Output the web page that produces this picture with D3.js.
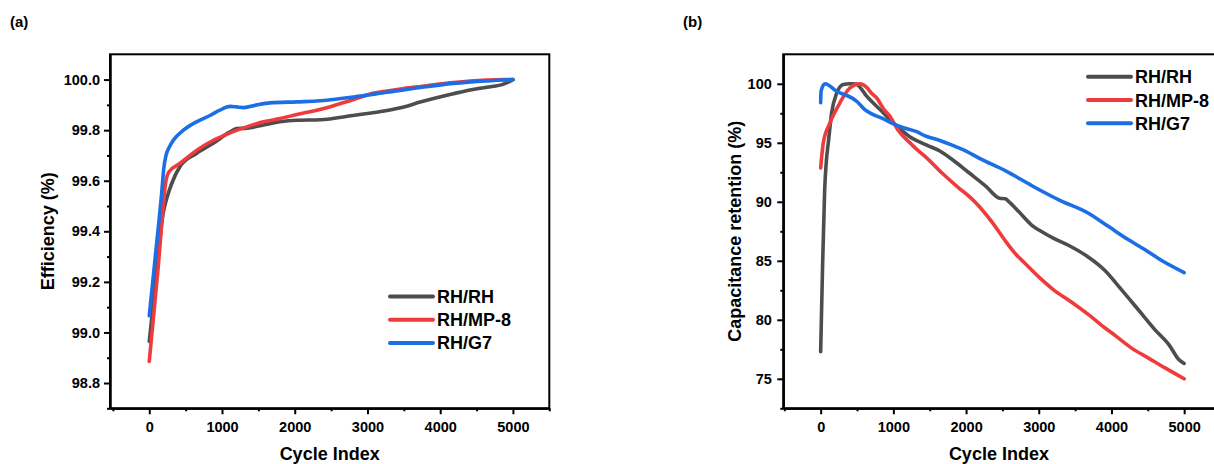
<!DOCTYPE html>
<html>
<head>
<meta charset="utf-8">
<script src="https://cdn.jsdelivr.net/npm/d3@7"></script>
<style>
  html, body { margin: 0; padding: 0; background: #fff; }
  svg { display: block; font-family: "Liberation Sans", Arial, sans-serif; font-weight: bold; }
</style>
</head>
<body>
<svg id="chart" width="1214" height="464"></svg>
<script>
// Series names and colours
const seriesNames = ["RH/RH", "RH/MP-8", "RH/G7"];
const seriesColors = ["#4d4d4d", "#ef3b3b", "#1c6ee6"];

// (a) Coulombic efficiency (%) vs cycle index, as [cycle, value]
const effRHRH = [
  [0, 98.965], [95, 99.22], [190, 99.47], [240, 99.53], [310, 99.59], [420, 99.655],
  [650, 99.708], [880, 99.748], [1110, 99.793], [1200, 99.806], [1340, 99.808],
  [1570, 99.82], [1800, 99.833], [2030, 99.839], [2350, 99.841], [2800, 99.858],
  [3270, 99.878], [3500, 99.892], [3725, 99.911], [3950, 99.928], [4180, 99.944],
  [4410, 99.959], [4640, 99.970], [4870, 99.982], [5000, 100.0]
];
const effRHMP8 = [
  [0, 98.886], [120, 99.25], [230, 99.60], [270, 99.635], [424, 99.669], [650, 99.72],
  [880, 99.76], [1110, 99.789], [1340, 99.813], [1570, 99.833], [1800, 99.846],
  [2030, 99.862], [2260, 99.876], [2490, 99.893], [2810, 99.921], [3040, 99.943],
  [3270, 99.955], [3500, 99.965], [3730, 99.973], [3960, 99.981], [4180, 99.988],
  [4410, 99.994], [4640, 99.998], [4870, 100.0], [5000, 100.0]
];
const effRHG7 = [
  [0, 99.066], [90, 99.32], [170, 99.55], [200, 99.65], [230, 99.70], [280, 99.735],
  [330, 99.76], [470, 99.80], [650, 99.833], [840, 99.859], [970, 99.879],
  [1110, 99.894], [1200, 99.892], [1300, 99.889], [1480, 99.90], [1660, 99.908],
  [2030, 99.912], [2350, 99.916], [2490, 99.920], [2810, 99.931], [3270, 99.950],
  [3730, 99.969], [4180, 99.985], [4640, 99.995], [5000, 100.0]
];

// (b) Capacitance retention (%) vs cycle index, as [cycle, value]
const retRHRH = [
  [0, 77.3], [25, 84.2], [55, 91.0], [80, 93.6], [105, 95.0], [150, 97.5], [220, 99.2],
  [310, 99.94], [400, 100.0], [490, 99.98], [520, 99.85], [633, 98.95], [816, 97.82],
  [999, 96.69], [1230, 95.5], [1460, 94.8], [1640, 94.3], [1805, 93.6], [2040, 92.46],
  [2270, 91.33], [2460, 90.3], [2540, 90.25], [2600, 89.95], [2740, 89.07], [2920, 87.94],
  [3060, 87.4], [3200, 86.92], [3440, 86.21], [3670, 85.37], [3900, 84.24], [4140, 82.54],
  [4370, 80.85], [4600, 79.15], [4790, 77.9], [4930, 76.61], [5000, 76.3]
];
const retRHMP8 = [
  [0, 92.87], [36, 94.99], [128, 96.69], [265, 98.39], [403, 99.66], [541, 100.0],
  [633, 99.7], [700, 99.2], [770, 98.8], [872, 97.82], [953, 97.25], [1059, 96.13],
  [1136, 95.55], [1245, 94.9], [1320, 94.45], [1432, 93.87], [1665, 92.46], [1898, 91.19],
  [2038, 90.48], [2178, 89.63], [2365, 88.22], [2551, 86.6], [2691, 85.51], [2785, 84.94],
  [3018, 83.53], [3204, 82.54], [3438, 81.55], [3671, 80.5], [3904, 79.35], [4044, 78.7],
  [4277, 77.60], [4510, 76.75], [4743, 75.90], [5000, 75.0]
];
const retRHG7 = [
  [0, 98.4], [3, 99.1], [10, 99.5], [60, 100.0], [220, 99.37], [499, 98.5], [592, 97.9],
  [872, 97.0], [1000, 96.6], [1150, 96.25], [1320, 95.95], [1430, 95.6], [1640, 95.2],
  [1805, 94.8], [2000, 94.3], [2178, 93.7], [2551, 92.6], [2924, 91.3], [3298, 90.1],
  [3671, 89.07], [3951, 87.94], [4230, 86.8], [4463, 85.93], [4697, 85.0], [5000, 84.0]
];

// Tick values
const xMajorTicks = [0, 1000, 2000, 3000, 4000, 5000];
const xMinorTicks = [-500, 500, 1500, 2500, 3500, 4500, 5500];
const effMajorTicks = [98.8, 99.0, 99.2, 99.4, 99.6, 99.8, 100.0];
const effMinorTicks = [98.7, 98.9, 99.1, 99.3, 99.5, 99.7, 99.9];
const retMajorTicks = [75, 80, 85, 90, 95, 100];
const retMinorTicks = [72.5, 77.5, 82.5, 87.5, 92.5, 97.5];

const svg = d3.select("#chart");

function drawPanel(cfg) {
  const { x, y } = cfg;
  const g = svg.append("g");
  const [x0, x1] = x.range();
  const [yb, yt] = y.range();

  // frame
  g.append("rect")
    .attr("x", x0).attr("y", yt)
    .attr("width", x1 - x0).attr("height", yb - yt)
    .attr("fill", "none").attr("stroke", "#000").attr("stroke-width", 2);

  // series lines
  const line = d3.line()
    .x(d => x(d[0])).y(d => y(d[1]))
    .curve(d3.curveMonotoneX);
  cfg.series.forEach((s, i) => {
    g.append("path")
      .datum(s)
      .attr("d", line)
      .attr("fill", "none")
      .attr("stroke", seriesColors[i])
      .attr("stroke-width", 3.6)
      .attr("stroke-linecap", "round")
      .attr("stroke-linejoin", "round");
  });

  // bottom axis
  const styleAxis = sel => {
    sel.selectAll("path").attr("stroke", "#000").attr("stroke-width", 2);
    sel.selectAll("line").attr("stroke", "#000").attr("stroke-width", 2);
    sel.selectAll("text").attr("fill", "#000")
      .style("font-size", "14.5px").style("font-weight", "bold")
      .style("font-family", "'Liberation Sans', Arial, sans-serif");
  };
  g.append("g").attr("transform", `translate(0,${yb})`)
    .call(d3.axisBottom(x).tickValues(xMajorTicks).tickSize(6).tickSizeOuter(0)
      .tickPadding(7).tickFormat(d3.format("d")))
    .call(styleAxis);
  g.append("g").attr("transform", `translate(0,${yb})`)
    .call(d3.axisBottom(x).tickValues(xMinorTicks).tickSize(3).tickSizeOuter(0)
      .tickFormat(""))
    .call(styleAxis);

  // left axis
  g.append("g").attr("transform", `translate(${x0},0)`)
    .call(d3.axisLeft(y).tickValues(cfg.yMajor).tickSize(6).tickSizeOuter(0)
      .tickPadding(cfg.yPad).tickFormat(cfg.yFormat))
    .call(styleAxis);
  g.append("g").attr("transform", `translate(${x0},0)`)
    .call(d3.axisLeft(y).tickValues(cfg.yMinor).tickSize(3).tickSizeOuter(0)
      .tickFormat(""))
    .call(styleAxis);

  // axis titles
  g.append("text")
    .attr("x", (x0 + x1) / 2 + cfg.xTitleShift).attr("y", 460)
    .attr("text-anchor", "middle")
    .style("font-size", "18px")
    .text("Cycle Index");
  g.append("text")
    .attr("transform", `translate(${cfg.yTitleX},${(yb + yt) / 2}) rotate(-90)`)
    .attr("text-anchor", "middle")
    .style("font-size", "18px")
    .text(cfg.yTitle);

  // panel tag
  g.append("text")
    .attr("x", cfg.tagX).attr("y", 27)
    .style("font-size", "15px")
    .text(cfg.tag);

  // legend
  const lg = g.append("g");
  seriesNames.forEach((name, i) => {
    const ly = cfg.legendY + i * cfg.legendStep;
    lg.append("line")
      .attr("x1", cfg.legendX).attr("x2", cfg.legendX + 43)
      .attr("y1", ly).attr("y2", ly)
      .attr("stroke", seriesColors[i]).attr("stroke-width", 4)
      .attr("stroke-linecap", "round");
    lg.append("text")
      .attr("x", cfg.legendX + 47).attr("y", ly + 6.5)
      .style("font-size", "18px")
      .text(name);
  });
}

// (a) efficiency
drawPanel({
  x: d3.scaleLinear().domain([-540, 5500]).range([110, 549.3]),
  y: d3.scaleLinear().domain([98.7, 100.1]).range([408.3, 54.3]),
  series: [effRHRH, effRHMP8, effRHG7],
  yMajor: effMajorTicks, yMinor: effMinorTicks,
  yFormat: d3.format(".1f"), yPad: 4,
  yTitle: "Efficiency (%)", yTitleX: 54,
  xTitleShift: 0,
  tag: "(a)", tagX: 10,
  legendX: 390, legendY: 296.5, legendStep: 23.2
});

// (b) capacitance retention
drawPanel({
  x: d3.scaleLinear().domain([-514, 5500]).range([783.3, 1220.5]),
  y: d3.scaleLinear().domain([72.5, 102.5]).range([408.3, 54.3]),
  series: [retRHRH, retRHMP8, retRHG7],
  yMajor: retMajorTicks, yMinor: retMinorTicks,
  yFormat: d3.format("d"), yPad: 5.5,
  yTitle: "Capacitance retention (%)", yTitleX: 741,
  xTitleShift: -3,
  tag: "(b)", tagX: 683,
  legendX: 1088, legendY: 76.7, legendStep: 23.3
});
</script>
</body>
</html>
